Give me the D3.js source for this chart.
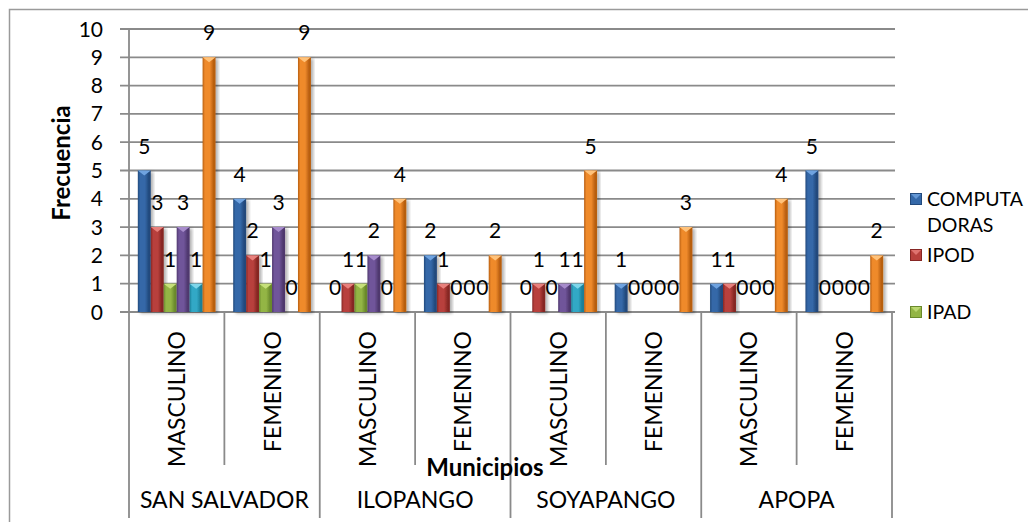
<!DOCTYPE html>
<html>
<head>
<meta charset="utf-8">
<script src="https://cdn.jsdelivr.net/npm/d3@7"></script>
<style>
  html, body { margin: 0; padding: 0; background: #fff; }
  svg { display: block; font-family: Lato, "Open Sans", sans-serif; }
</style>
</head>
<body>
<svg id="chart" width="1028" height="522"></svg>
<script>
// Municipio / gender groups along the x axis
const municipios = ["SAN SALVADOR", "ILOPANGO", "SOYAPANGO", "APOPA"];
const generos = ["MASCULINO", "FEMENINO"];

// Series (only the first three fit in the legend)
const series = ["COMPUTADORAS", "IPOD", "IPAD", "SERIE 4", "SERIE 5", "SERIE 6"];
const legendLines = [["COMPUTA", "DORAS"], ["IPOD"], ["IPAD"]];

// Values per series, one per municipio/gender group, in group order
const computadoras = [5, 4, 0, 2, 0, 1, 1, 5];
const ipod         = [3, 2, 1, 1, 1, 0, 1, 0];
const ipad         = [1, 1, 1, 0, 0, 0, 0, 0];
const serie4       = [3, 3, 2, 0, 1, 0, 0, 0];
const serie5       = [1, 0, 0, 0, 1, 0, 0, 0];
const serie6       = [9, 9, 4, 2, 5, 3, 4, 2];
const seriesValues = [computadoras, ipod, ipad, serie4, serie5, serie6];

const yTicks = [0, 1, 2, 3, 4, 5, 6, 7, 8, 9, 10];

// Bar palette: [edge, body, highlight]
const palette = [
  ["#22497c", "#3468a8", "#6fa3e0"],
  ["#862624", "#b8403c", "#e8807c"],
  ["#6a8a2c", "#93b545", "#c6e07a"],
  ["#4f386e", "#70559a", "#a78ccc"],
  ["#1b7f98", "#33a8c6", "#7fd6ea"],
  ["#b85e10", "#ef8a2c", "#ffc27a"]
];

const groups = [];
municipios.forEach(m => generos.forEach(g => groups.push(m + "|" + g)));

const svg = d3.select("#chart");
const defs = svg.append("defs");

// Plot area
const plotLeft = 129, plotRight = 892, plotTop = 29, plotBottom = 312;

const x0 = d3.scaleBand().domain(groups).range([plotLeft, plotRight]).padding(0);
const x1 = d3.scaleBand().domain(d3.range(series.length))
  .range([0, x0.bandwidth()]).paddingInner(0).paddingOuter(0.68);
const y = d3.scaleLinear().domain([0, 10]).range([plotBottom, plotTop]);

// Gradients for the bevelled bars
palette.forEach((c, i) => {
  const g = defs.append("linearGradient").attr("id", "bar" + i)
    .attr("x1", "0").attr("x2", "1").attr("y1", "0").attr("y2", "0");
  g.append("stop").attr("offset", "0").attr("stop-color", c[0]);
  g.append("stop").attr("offset", "0.18").attr("stop-color", c[1]);
  g.append("stop").attr("offset", "0.55").attr("stop-color", c[1]);
  g.append("stop").attr("offset", "0.85").attr("stop-color", c[0]);
  g.append("stop").attr("offset", "1").attr("stop-color", c[0]);
});
const shadow = defs.append("filter").attr("id", "shadow")
  .attr("x", "-30%").attr("y", "-10%").attr("width", "160%").attr("height", "130%");
shadow.append("feDropShadow").attr("dx", 2.5).attr("dy", 1.5)
  .attr("stdDeviation", 1.6).attr("flood-color", "#000").attr("flood-opacity", 0.3);

// Outer chart border
svg.append("rect").attr("x", 9.5).attr("y", 9.5).attr("width", 1030).attr("height", 530)
  .attr("fill", "none").attr("stroke", "#9a9a9a").attr("stroke-width", 1.5);

// Horizontal gridlines
svg.append("g").selectAll("line").data(yTicks).join("line")
  .attr("x1", 120).attr("x2", plotRight + 3)
  .attr("y1", d => y(d)).attr("y2", d => y(d))
  .attr("stroke", "#8a8a8a").attr("stroke-width", 1.8);

// Y tick labels
svg.append("g").selectAll("text").data(yTicks).join("text")
  .attr("x", 103).attr("y", d => y(d) + 7.5)
  .attr("text-anchor", "end").attr("font-size", 21).attr("fill", "#000")
  .text(d => d);

// Vertical axis line
svg.append("line").attr("x1", plotLeft).attr("x2", plotLeft).attr("y1", plotTop).attr("y2", 518)
  .attr("stroke", "#8a8a8a").attr("stroke-width", 1.8);

// Category dividers: tall ones between municipios, short ones between genders
const dividers = d3.range(1, groups.length + 1).map(i => ({
  x: plotLeft + i * x0.step(),
  tall: i % generos.length === 0
}));
svg.append("g").selectAll("line").data(dividers).join("line")
  .attr("x1", d => d.x).attr("x2", d => d.x)
  .attr("y1", plotBottom).attr("y2", d => d.tall ? 518 : 465)
  .attr("stroke", "#8a8a8a").attr("stroke-width", 1.8);

// Bars
const barData = [];
groups.forEach((grp, gi) => {
  seriesValues.forEach((vals, si) => barData.push({ grp, si, v: vals[gi] }));
});

const bars = svg.append("g");
bars.selectAll("rect").data(barData.filter(d => d.v > 0)).join("rect")
  .attr("x", d => x0(d.grp) + x1(d.si))
  .attr("y", d => y(d.v))
  .attr("width", x1.bandwidth())
  .attr("height", d => y(0) - y(d.v))
  .attr("fill", d => "url(#bar" + d.si + ")")
  .attr("filter", "url(#shadow)");

// Bevel highlight on top of each bar
bars.selectAll("path").data(barData.filter(d => d.v > 0)).join("path")
  .attr("d", d => {
    const bx = x0(d.grp) + x1(d.si), w = x1.bandwidth(), by = y(d.v);
    return `M${bx},${by}L${bx + w},${by}L${bx + w / 2},${by + 5}Z`;
  })
  .attr("fill", d => palette[d.si][2]);

// Data labels
svg.append("g").selectAll("text").data(barData).join("text")
  .attr("x", d => x0(d.grp) + x1(d.si) + x1.bandwidth() / 2)
  .attr("y", d => y(d.v) - 17)
  .attr("text-anchor", "middle").attr("font-size", 21).attr("fill", "#000")
  .text(d => d.v);

// Gender labels (rotated)
svg.append("g").selectAll("text").data(groups).join("text")
  .attr("transform", d => `translate(${x0(d) + x0.bandwidth() / 2 + 8.5},331) rotate(-90)`)
  .attr("text-anchor", "end").attr("font-size", 23).attr("fill", "#000")
  .text(d => d.split("|")[1]);

// Municipio labels
svg.append("g").selectAll("text").data(municipios).join("text")
  .attr("x", (d, i) => plotLeft + (i + 0.5) * generos.length * x0.step())
  .attr("y", 508)
  .attr("text-anchor", "middle").attr("font-size", 23).attr("fill", "#000")
  .text(d => d);

// Axis titles
svg.append("text").attr("x", 485).attr("y", 476)
  .attr("text-anchor", "middle").attr("font-size", 24).attr("font-weight", "bold")
  .text("Municipios");
svg.append("text").attr("transform", "translate(70,163) rotate(-90)")
  .attr("text-anchor", "middle").attr("font-size", 24).attr("font-weight", "bold")
  .text("Frecuencia");

// Legend
const legendY = [199, 255, 312];
const legend = svg.append("g");
legendLines.forEach((lines, i) => {
  const c = palette[i];
  legend.append("rect").attr("x", 910.5).attr("y", legendY[i] - 5.5)
    .attr("width", 11).attr("height", 11).attr("fill", c[1])
    .attr("stroke", c[0]).attr("stroke-width", 1);
  legend.append("path")
    .attr("d", `M911,${legendY[i] - 5}L921,${legendY[i] - 5}L916,${legendY[i]}Z`)
    .attr("fill", c[2]).attr("opacity", 0.8);
  lines.forEach((t, j) => {
    legend.append("text").attr("x", 927).attr("y", legendY[i] + 7 + j * 26)
      .attr("font-size", 19.5).attr("fill", "#000").text(t);
  });
});
</script>
</body>
</html>
